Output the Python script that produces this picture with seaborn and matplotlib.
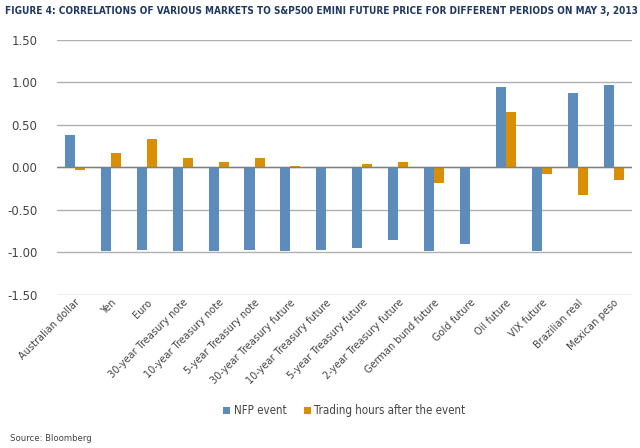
import pandas as pd
import numpy as np
import seaborn as sns
import matplotlib.pyplot as plt

# data
markets = ["Australian dollar", "Yen", "Euro", "30-year Treasury note",
           "10-year Treasury note", "5-year Treasury note", "30-year Treasury future",
           "10-year Treasury future", "5-year Treasury future", "2-year Treasury future",
           "German bund future", "Gold future", "Oil future", "VIX future",
           "Brazilian real", "Mexican peso"]
nfp_event = [0.38, -0.98, -0.97, -0.98, -0.98, -0.97, -0.98, -0.97,
             -0.955, -0.85, -0.99, -0.905, 0.95, -0.985, 0.87, 0.97]
trading_hours = [-0.03, 0.165, 0.33, 0.105, 0.06, 0.105, 0.02, 0.0,
                 0.035, 0.065, -0.19, 0.0, 0.65, -0.08, -0.33, -0.15]
series_names = ["NFP event", "Trading hours after the event"]

df = pd.DataFrame({"market": markets * 2,
                   "value": nfp_event + trading_hours,
                   "series": [series_names[0]] * len(markets) + [series_names[1]] * len(markets)})

sns.set_style("white")
plt.rcParams['font.family'] = ['DejaVu Sans']
plt.rcParams['font.stretch'] = 'condensed'

fig = plt.figure(figsize=(6.4, 4.48), dpi=100)
ax = fig.add_axes([0.089, 0.342, 0.898, 0.569])

palette = {series_names[0]: "#5b8cbc", series_names[1]: "#d98e04"}
sns.barplot(data=df, x="market", y="value", hue="series", palette=palette,
            width=0.56, gap=0, saturation=1, linewidth=0, ax=ax)

ax.set_ylim(-1.5, 1.5)
ax.set_yticks(np.arange(-1.5, 1.51, 0.5))
ax.set_yticklabels([f"{v:.2f}" for v in np.arange(-1.5, 1.51, 0.5)], fontsize=8.5,
                   color="#444444", fontstretch="normal")
ax.yaxis.grid(True, color="#b0b0b0", linewidth=1)
ax.set_axisbelow(True)
ax.axhline(0, color="#808080", linewidth=1, zorder=1)
for s in ax.spines.values():
    s.set_visible(False)
ax.tick_params(axis="y", length=0, pad=14)
ax.tick_params(axis="x", length=0, pad=2)
ax.set_xlim(-0.5, len(markets) - 0.5)
ax.set_xlabel("")
ax.set_ylabel("")
plt.setp(ax.get_xticklabels(), rotation=45, ha="right", rotation_mode="anchor",
         fontsize=7.8, color="#444444", fontstretch="condensed")

ax.legend(loc="center", bbox_to_anchor=(0.5, -0.455), ncol=2, frameon=False,
          fontsize=8.3, handlelength=0.6, handleheight=0.6, columnspacing=1.5,
          handletextpad=0.3, labelcolor="#444444")

fig.text(0.008, 0.975, "FIGURE 4: CORRELATIONS OF VARIOUS MARKETS TO S&P500 EMINI FUTURE PRICE FOR DIFFERENT PERIODS ON MAY 3, 2013",
         fontsize=7.2, fontweight="bold", color="#1f3864", ha="left", va="center",
         fontstretch="condensed")
fig.text(0.016, 0.022, "Source: Bloomberg", fontsize=6.8, color="#444444", ha="left", va="center",
         fontstretch="condensed")

fig.savefig("out.png", dpi=100)
